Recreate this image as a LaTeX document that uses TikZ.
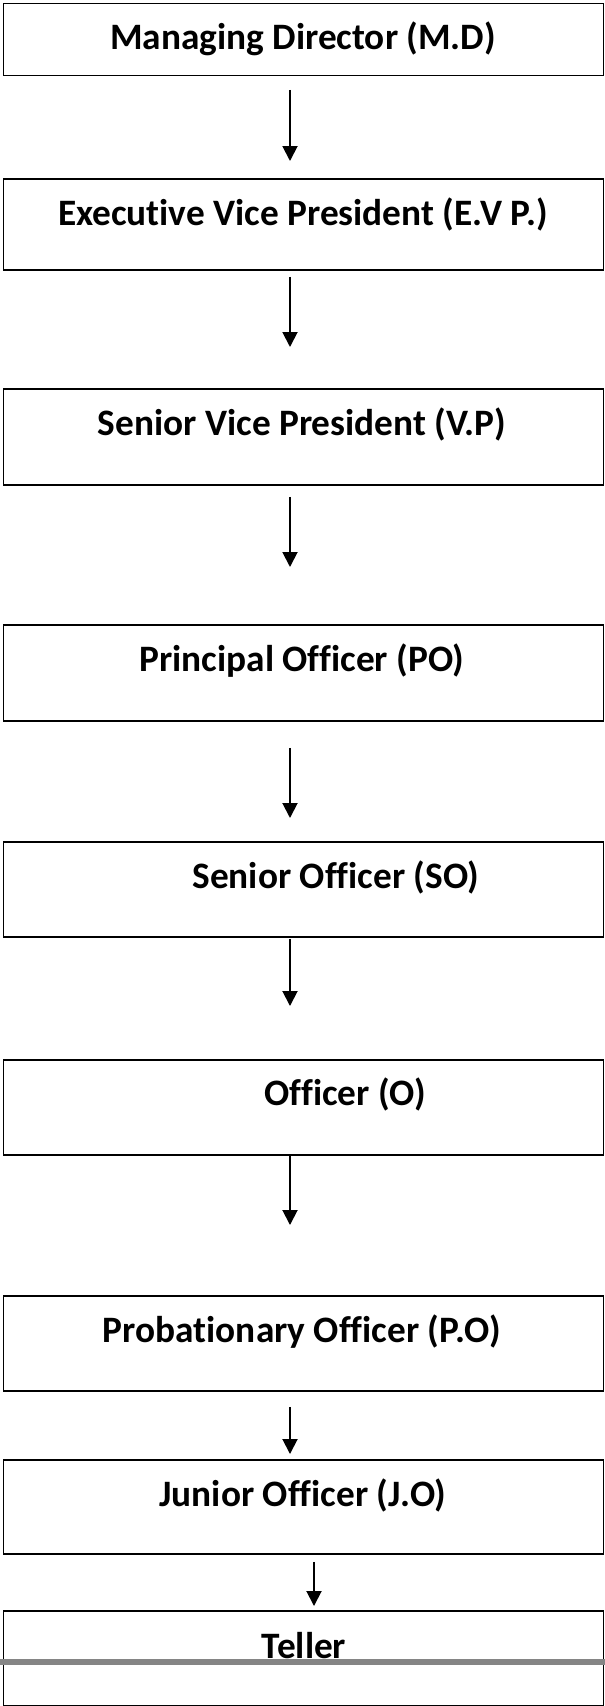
\documentclass[tikz,border=0pt]{standalone}
\usepackage{fontspec}
\setmainfont{Carlito}[Ligatures=NoCommon]
\usetikzlibrary{arrows.meta}
\begin{document}
\begin{tikzpicture}[x=1pt,y=-1pt,
  box/.style={draw=black, line width=1.8pt, rectangle, inner sep=0pt,
    minimum width=600pt, anchor=north west},
  lbl/.style={anchor=base, inner sep=0pt,
    font=\fontsize{37.3}{42}\selectfont\bfseries},
  arr/.style={draw=black, line width=1.9pt,
    -{Triangle[width=15pt,length=15pt]}}]
\useasboundingbox (0,0) rectangle (605,1706);

% rank boxes
\node[box, minimum height=72pt] (b1) at (2.5,2.5) {};
\node[box, minimum height=91pt] (b2) at (2.5,178) {};
\node[box, minimum height=96pt] (b3) at (2.5,388) {};
\node[box, minimum height=96pt] (b4) at (2.5,624) {};
\node[box, minimum height=95pt] (b5) at (2.5,841) {};
\node[box, minimum height=95pt] (b6) at (2.5,1059) {};
\node[box, minimum height=95pt] (b7) at (2.5,1295) {};
\node[box, minimum height=94pt] (b8) at (2.5,1459) {};
\node[box, minimum height=95pt] (b9) at (2.5,1610) {};

% titles
\node[lbl] (t1) at (303,49) {Managing Director (M.D)};
\node[lbl] (t2) at (303,225) {Executive Vice President (E.V P.)};
\node[lbl] (t3) at (302,435) {Senior Vice President (V.P)};
\node[lbl] (t4) at (302,671) {Principal Officer (PO)};
\node[lbl] (t5) at (336,888) {Senior Officer (SO)};
\node[lbl] (t6) at (345,1105) {Officer (O)};
\node[lbl] (t7) at (302,1342) {Probationary Officer (P.O)};
\node[lbl] (t8) at (303,1506) {Junior Officer (J.O)};
\node[lbl] (t9) at (304,1658) {Teller};

% rule across the last box
\draw[line width=5.5pt, color=black!48] (0,1662) -- (605,1662);

% arrow columns
\coordinate (ax) at (290,0);
\coordinate (bx) at (314,0);

\draw[arr] ([yshift=-13.5pt]b1.south -| ax) -- ([yshift=17pt]b2.north -| ax);
\draw[arr] ([yshift=-6pt]b2.south -| ax) -- ([yshift=41pt]b3.north -| ax);
\draw[arr] ([yshift=-11pt]b3.south -| ax) -- ([yshift=57pt]b4.north -| ax);
\draw[arr] ([yshift=-26pt]b4.south -| ax) -- ([yshift=23pt]b5.north -| ax);
\draw[arr] ([yshift=-1pt]b5.south -| ax) -- ([yshift=53pt]b6.north -| ax);
\draw[arr] (b6.south -| ax) -- ([yshift=70pt]b7.north -| ax);
\draw[arr] ([yshift=-15pt]b7.south -| ax) -- ([yshift=5pt]b8.north -| ax);
\draw[arr] ([yshift=-7pt]b8.south -| bx) -- ([yshift=4pt]b9.north -| bx);
\end{tikzpicture}
\end{document}
